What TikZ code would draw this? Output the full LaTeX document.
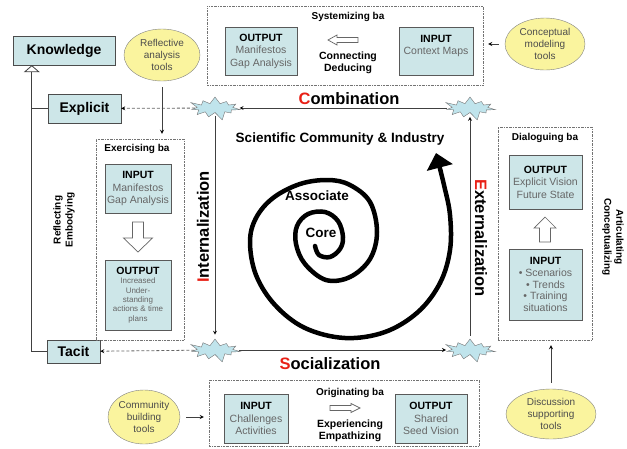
\documentclass[tikz,border=0pt]{standalone}
\usepackage{fontspec}
\setmainfont{Liberation Sans}
\usetikzlibrary{shapes.geometric,shapes.symbols,arrows.meta}
\definecolor{boxblue}{RGB}{205,230,232}
\definecolor{toolyellow}{RGB}{250,244,158}
\definecolor{burstblue}{RGB}{192,228,236}
\definecolor{letterred}{RGB}{232,32,22}
\newcommand{\fs}[2]{\fontsize{#1}{#2}\selectfont}
\newcommand{\bahead}[1]{{\color{black}\bfseries #1}}
\newcommand{\rl}[1]{\textcolor{letterred}{#1}}
\tikzset{
	kbox/.style={draw=black!70,fill=boxblue,font=\bfseries\fs{14}{16},minimum height=29pt,inner sep=0pt},
	babox/.style={draw=black!65,fill=boxblue,align=center,text=black!60,font=\fs{10.5}{12.5},inner sep=1pt},
	baframe/.style={draw=black!55,dash pattern=on 2pt off 1pt on 0.5pt off 1pt,inner sep=0pt},
	balabel/.style={font=\bfseries\fs{10}{12},align=center},
	tool/.style={ellipse,draw=black!50,fill=toolyellow,align=center,text=black!70,font=\fs{10}{12},inner sep=0pt},
	burst/.style={starburst,starburst points=11,starburst point height=9pt,draw=black!55,fill=burstblue,minimum width=54pt,minimum height=27pt,inner sep=0pt},
	modelabel/.style={font=\bfseries\fs{16.5}{18}},
	corelabel/.style={font=\bfseries\fs{13.5}{16}},
	wire/.style={draw=black!75,line width=0.8pt},
	pics/blockarrow/.style n args={4}{code={
		\draw[black!60,fill=white,line width=0.7pt] ({-#1/2},{-#2/2}) -- ({#1/2-#4},{-#2/2}) -- ({#1/2-#4},{-#3/2}) -- ({#1/2},0)
		-- ({#1/2-#4},{#3/2}) -- ({#1/2-#4},{#2/2}) -- ({-#1/2},{#2/2}) -- cycle;
	}}
}
\begin{document}
\begin{tikzpicture}[x=1pt,y=-1pt]
			\useasboundingbox (0,0) rectangle (627,448);

			\node[kbox,minimum width=102pt] (know) at (64,50.5) {Knowledge};
			\node[kbox,minimum width=73pt] (expl) at (84.5,108.5) {Explicit};
			\node[kbox,minimum width=53pt,minimum height=23pt] (tacit) at (73.5,351.5) {Tacit};
			\coordinate (trunk) at ([xshift=19pt]know.south west);
			\draw[wire,{Triangle[open,length=7pt,width=16pt]}-] (trunk) |- (tacit.west);
			\draw[wire] (expl.west) -- (expl.west -| trunk);
			\node[balabel,rotate=90] at (64,220) {Reflecting\\Embodying};

			\node[burst] (s-tl) at (215,108) {};
			\node[burst] (s-tr) at (470,108) {};
			\node[burst] (s-bl) at (215,350) {};
			\node[burst] (s-br) at (470,350) {};
			\node[modelabel] at (349,99) {\rl{C}ombination};
			\node[modelabel] at (330,364) {\rl{S}ocialization};
			\node[modelabel,rotate=90] at (203,227) {\rl{I}nternalization};
			\node[modelabel,rotate=-90] at (481,238) {\rl{E}xternalization};

			\node[baframe,minimum width=276pt,minimum height=79pt] (sys) at (345,45.5) {};
			\node[balabel] at (348,17) {Systemizing ba};
			\node[babox,minimum width=72pt,minimum height=48pt] (sys-out) at (261,51) {\bahead{OUTPUT}\\Manifestos\\Gap Analysis};
			\node[babox,minimum width=74pt,minimum height=48pt] (sys-in) at (436,51) {\bahead{INPUT}\\Context Maps\\ \mbox{}};
			\pic[rotate=180] at (343,40) {blockarrow={30}{5}{10}{9}};
			\node[balabel,font=\bfseries\fs{10.5}{12.5}] at (348,63) {Connecting\\Deducing};

			\node[baframe,minimum width=88pt,minimum height=201pt] (exer) at (140,239.5) {};
			\node[balabel] at (137,149) {Exercising ba};
			\node[babox,minimum width=66pt,minimum height=49pt] (exer-in) at (138,188.5) {\bahead{INPUT}\\Manifestos\\Gap Analysis};
			\pic[rotate=-90] at (138,237) {blockarrow={30}{11}{29}{14}};
			\node[babox,minimum width=66pt,minimum height=70pt,font=\fs{8}{9.4}] (exer-out) at (138,295) {\bahead{\fs{10.5}{12}OUTPUT}\\Increased\\Under-\\standing\\actions \& time\\plans};

			\node[baframe,minimum width=94pt,minimum height=213pt] (dial) at (545,233.5) {};
			\node[balabel] at (545,138) {Dialoguing ba};
			\node[babox,minimum width=73pt,minimum height=54pt] (dial-out) at (545.5,182) {\bahead{OUTPUT}\\Explicit Vision\\Future State};
			\pic[rotate=90] at (545,229.5) {blockarrow={25}{11}{22}{11}};
			\node[babox,minimum width=73pt,minimum height=71pt,font=\fs{10.5}{11.8}] (dial-in) at (545.5,284.5) {\bahead{INPUT}\\\textbullet\ Scenarios\\\textbullet\ Trends\\\textbullet\ Training\\situations};
			\node[balabel,rotate=-90] at (613,237) {Articulating\\Conceptualizing};

			\node[baframe,minimum width=270pt,minimum height=66pt] (orig) at (344,413) {};
			\node[balabel] at (350,393) {Originating ba};
			\node[babox,minimum width=64pt,minimum height=49pt] (orig-in) at (256,418.5) {\bahead{INPUT}\\Challenges\\Activities};
			\pic at (345,408) {blockarrow={30}{5}{9}{9}};
			\node[balabel,font=\bfseries\fs{10.5}{12.5}] at (350,431) {Experiencing\\Empathizing};
			\node[babox,minimum width=72pt,minimum height=49pt] (orig-out) at (431,418.5) {\bahead{OUTPUT}\\Shared\\Seed Vision};

			\node[tool,minimum width=76pt,minimum height=52pt] (refl) at (162,55) {Reflective\\analysis\\tools};
			\node[tool,minimum width=80pt,minimum height=52pt] (concept) at (545,44) {Conceptual\\modeling\\tools};
			\node[tool,minimum width=72pt,minimum height=54pt] (comm) at (144,417) {Community\\building\\tools};
			\node[tool,minimum width=90pt,minimum height=50pt] (disc) at (551,414) {Discussion\\supporting\\tools};

			\node[corelabel] at (340,139) {Scientific Community \& Industry};
			\node[corelabel] at (317,196) {Associate};
			\node[corelabel] at (321,233) {Core};
			\draw[line width=4.5pt,line cap=round,-{Triangle[length=15pt,width=26pt]}] plot[smooth,tension=0.6] coordinates {(315,246) (319,255) (330,257) (340,249) (343,237) (338,221) (325,212) (308,214) (297,226) (296,244) (305,264) (326,280) (350,277) (370,259) (377,232) (370,202) (350,185) (328,180) (300,184) (273,198) (256,218) (250,242) (256,275) (275,305) (305,328) (345,338) (385,332) (418,312) (440,283) (450,250) (450,215) (444,185) (436,153)};

			\path[-stealth,wire,shorten <=3pt,shorten >=4pt]
			(s-tr) edge (s-tl)
			(s-bl) edge (s-br)
			(s-tl) edge (s-bl)
			(s-br) edge (s-tr);
			\path[-stealth,wire,densely dashed,draw=black!60]
			(s-tl) edge (expl)
			(s-bl) edge (tacit);
			\path[-stealth,wire,shorten <=6pt,shorten >=5pt]
			(refl) edge (refl |- exer.north)
			(concept) edge (concept -| sys.east)
			(comm) edge (comm -| orig.west)
			(disc) edge (disc |- dial.south);
		\end{tikzpicture}
\end{document}
